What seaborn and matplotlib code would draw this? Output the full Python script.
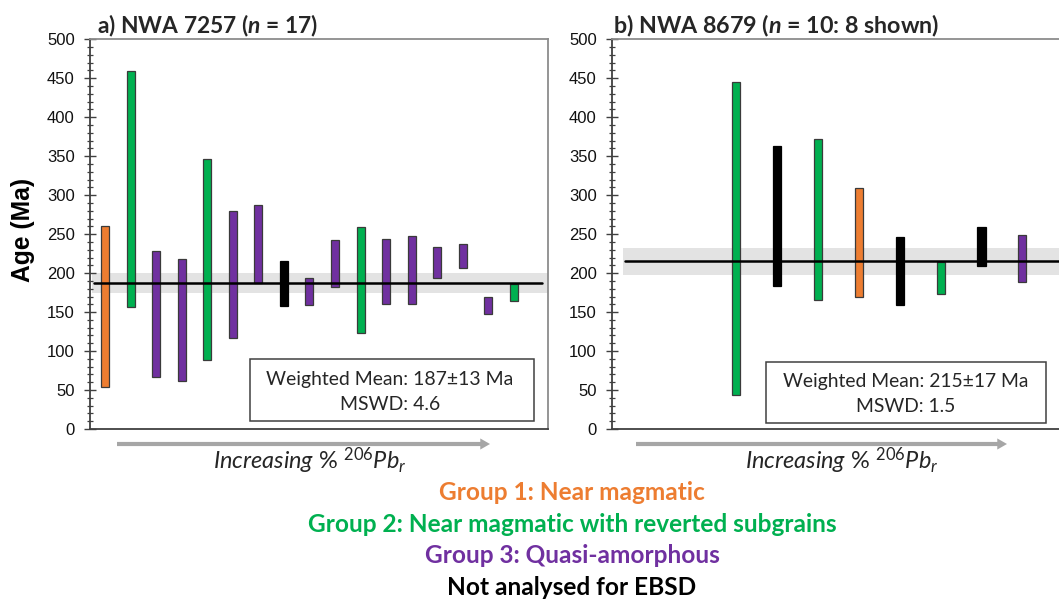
import numpy as np
import pandas as pd
import matplotlib
matplotlib.use("Agg")
import matplotlib.pyplot as plt
import seaborn as sns
from matplotlib.patches import Rectangle, FancyArrowPatch
from matplotlib.ticker import MultipleLocator

# ---------------- data ----------------
# a) NWA 7257 : analyses ordered by increasing % 206Pb_r
a_pos = list(range(1, 18))
a_top = [260, 459, 228, 218, 347, 280, 287, 216, 194, 243, 259, 244, 247, 233, 237, 170, 186]
a_bottom = [54, 156, 67, 61, 89, 117, 187, 158, 159, 182, 123, 161, 160, 194, 207, 147, 164]
a_group = ["G1", "G2", "G3", "G3", "G2", "G3", "G3", "NA", "G3", "G3", "G2", "G3", "G3",
           "G3", "G3", "G3", "G2"]
a_mean, a_err, a_mswd = 187, 13, 4.6

# b) NWA 8679 : 10 analyses, 8 shown (positions 3-10)
b_pos = [3, 4, 5, 6, 7, 8, 9, 10]
b_top = [445, 363, 372, 309, 246, 214, 259, 249]
b_bottom = [44, 184, 166, 169, 159, 173, 209, 189]
b_group = ["G2", "NA", "G2", "G1", "NA", "G2", "NA", "G3"]
b_mean, b_err, b_mswd = 215, 17, 1.5

group_colors = {"G1": "#ED7D31", "G2": "#00B050", "G3": "#7030A0", "NA": "#000000"}
legend_labels = ["Group 1: Near magmatic",
                 "Group 2: Near magmatic with reverted subgrains",
                 "Group 3: Quasi-amorphous",
                 "Not analysed for EBSD"]
legend_keys = ["G1", "G2", "G3", "NA"]

# ---------------- style ----------------
sns.set_style("ticks")
plt.rcParams["font.family"] = ["Liberation Sans", "DejaVu Sans"]
plt.rcParams["mathtext.fontset"] = "custom"
plt.rcParams["mathtext.rm"] = "Lato"
plt.rcParams["mathtext.it"] = "Lato:italic"
plt.rcParams["mathtext.bf"] = "Lato:bold"
plt.rcParams["mathtext.bfit"] = "Lato:italic:bold"
CAL = ["Lato", "DejaVu Sans"]

W, H = 1059, 599
fig = plt.figure(figsize=(W / 100, H / 100), dpi=100)
ax_b = (H - 429) / H
ax_h = 389.7 / H
axA = fig.add_axes([90 / W, ax_b, 457.7 / W, ax_h])
axB = fig.add_axes([612 / W, ax_b, 457.7 / W, ax_h])


def px(x, y):
    return x / W, 1 - y / H


def draw_panel(ax, pos, top, bottom, groups, mean, err, xlim, width, line_start, line_end):
    df = pd.DataFrame({"analysis": pos,
                       "span": np.array(top) - np.array(bottom)})
    fc = [group_colors[g] for g in groups]
    ec = ["#000000" if g == "NA" else "#3a3a3a" for g in groups]
    sns.barplot(data=df, x="analysis", y="span", bottom=bottom, native_scale=True,
                orient="x", width=width, errorbar=None, color="black",
                facecolor=fc, edgecolor=ec, linewidth=0.9, ax=ax, zorder=2)
    ax.axhspan(mean - err, mean + err, xmin=line_start - 0.004, xmax=1,
               color="#e3e3e3", lw=0, zorder=0.5)
    ax.axhline(mean, xmin=line_start, xmax=line_end, color="black", lw=1.8, zorder=3)
    ax.set_xlim(*xlim)
    ax.set_ylim(0, 500)
    ax.set_xticks([])
    ax.set_xlabel("")
    ax.set_ylabel("")
    ax.yaxis.set_major_locator(MultipleLocator(50))
    ax.yaxis.set_minor_locator(MultipleLocator(10))
    ax.tick_params(axis="y", which="major", direction="inout", length=8, width=1,
                   color="#404040", labelsize=12, labelcolor="#111111", pad=7,
                   labelfontfamily="Liberation Sans")
    ax.tick_params(axis="y", which="minor", direction="inout", length=5, width=0.9,
                   color="#404040", left=True)
    for s in ["left", "bottom"]:
        ax.spines[s].set_color("#404040")
        ax.spines[s].set_linewidth(1.3)
    for s in ["top", "right"]:
        ax.spines[s].set_visible(True)
        ax.spines[s].set_color("#8c8c8c")
        ax.spines[s].set_linewidth(1.3)
    ax.set_facecolor("white")


draw_panel(axA, a_pos, a_top, a_bottom, a_group, a_mean, a_err,
           (0.413, 18.32), 0.313, 0.009, 0.988)
draw_panel(axB, b_pos, b_top, b_bottom, b_group, b_mean, b_err,
           (-0.044, 11.16), 0.2, 0.028, 1.0)

fits = []

# titles
tA = fig.text(*px(96.7, 33), r"a) NWA 7257 ($\mathbfit{n}$ = 17)", fontweight="bold",
              family=CAL, fontsize=15, ha="left", va="baseline")
tB = fig.text(*px(613, 33), r"b) NWA 8679 ($\mathbfit{n}$ = 10: 8 shown)", fontweight="bold",
              family=CAL, fontsize=15, ha="left", va="baseline")
fits += [(tA, 221.6), (tB, 327)]

# y label (fitted on its vertical extent)
ylab = fig.text(*px(23, 230), "Age (Ma)", rotation=90, ha="center", va="center",
                fontweight="bold", fontsize=15, color="black")

# weighted mean boxes
for (x0, x1, y0, y1, cx, b1, b2, mean, err, mswd) in [
        (250, 534, 359, 421, 390, 385, 410, a_mean, a_err, a_mswd),
        (765.7, 1046, 362, 422.7, 906, 386.7, 412, b_mean, b_err, b_mswd)]:
    fig.add_artist(Rectangle(px(x0, y1), (x1 - x0) / W, (y1 - y0) / H,
                             transform=fig.transFigure, facecolor="white",
                             edgecolor="#404040", lw=1.1, zorder=5))
    t1 = fig.text(*px(cx, b1), f"Weighted Mean: {mean}\u00b1{err} Ma", family=CAL,
                  fontsize=14, ha="center", va="baseline", zorder=6)
    t2 = fig.text(*px(cx, b2), f"MSWD: {mswd}", family=CAL, fontsize=14,
                  ha="center", va="baseline", zorder=6)
    fits += [(t1, 247), (t2, None, t1)]

# arrows + x captions
for (xa, xb, xt) in [(117, 490, 213), (636, 1007, 745)]:
    fig.add_artist(FancyArrowPatch(px(xa, 444), px(xb, 444), transform=fig.transFigure,
                                   arrowstyle="simple,head_length=0.7,head_width=0.8,tail_width=0.3",
                                   mutation_scale=10, lw=0, color="#a6a6a6",
                                   shrinkA=0, shrinkB=0))
    ti = fig.text(*px(xt, 468.7),
                  r"$\mathit{Increasing\ \%\ }{}^{\mathit{206}}\mathit{Pb}_{\mathit{r}}$",
                  fontsize=15, ha="left", va="baseline")
    fits.append((ti, 194))

# group legend lines
baselines = [500, 532, 563, 595]
leg_texts = []
for lab, key, bl in zip(legend_labels, legend_keys, baselines):
    t = fig.text(*px(572, bl), lab, family=CAL, fontweight="bold", fontsize=15,
                 color=group_colors[key], ha="center", va="baseline")
    leg_texts.append(t)
fits.append((leg_texts[1], 528))
for t in [leg_texts[0], leg_texts[2], leg_texts[3]]:
    fits.append((t, None, leg_texts[1]))

# fit text sizes to measured widths
for _ in range(2):
    fig.canvas.draw()
    r = fig.canvas.get_renderer()
    for item in fits:
        if item[1] is not None:
            t, w = item[0], item[1]
            bb = t.get_window_extent(r)
            t.set_fontsize(t.get_fontsize() * w / bb.width)
    for item in fits:
        if item[1] is None:
            item[0].set_fontsize(item[2].get_fontsize())
    bb = ylab.get_window_extent(r)
    ylab.set_fontsize(ylab.get_fontsize() * 104 / bb.height)

fig.savefig("out.png", dpi=100)
